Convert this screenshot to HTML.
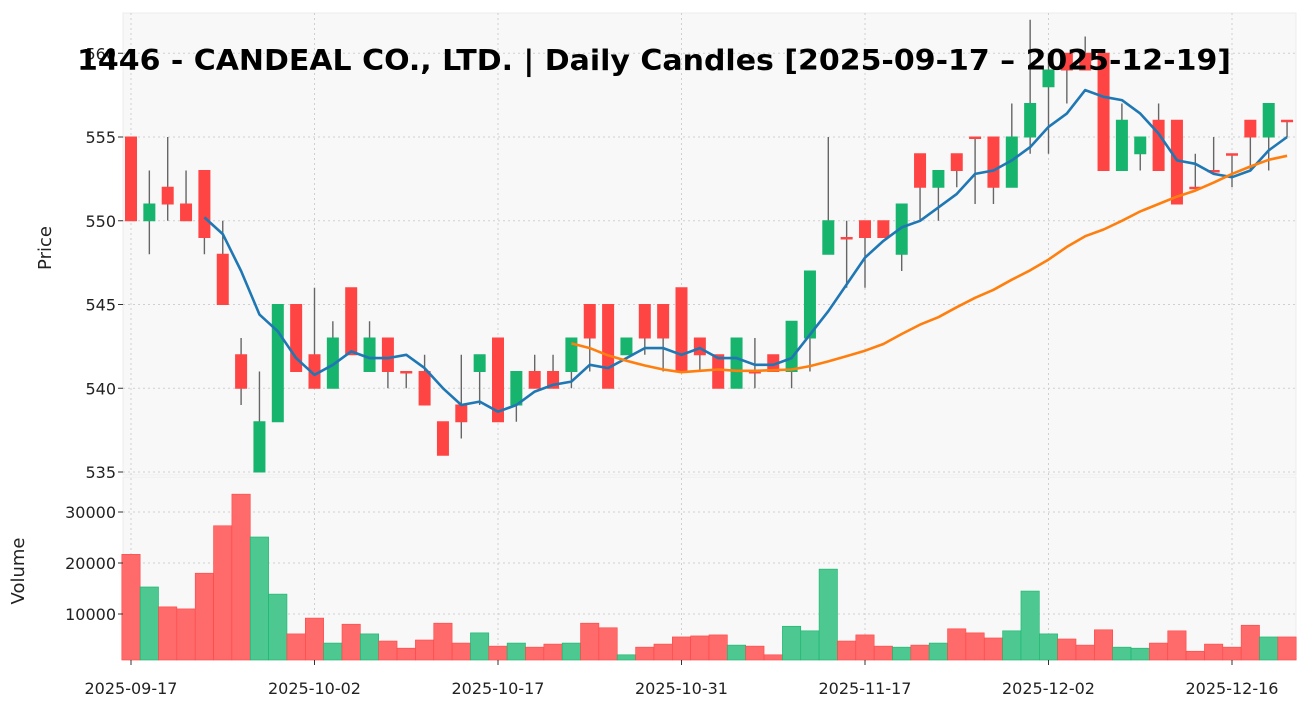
<!DOCTYPE html>
<html><head><meta charset="utf-8"><style>
body{margin:0;background:#fff;}
svg{display:block;font-family:"DejaVu Sans","Liberation Sans",sans-serif;}
</style></head><body>
<svg id="chart" width="1310" height="711" xmlns="http://www.w3.org/2000/svg">
<rect x="123" y="13" width="1173" height="462" fill="#f8f8f8" stroke="#ececec"/>
<rect x="123" y="477" width="1173" height="183" fill="#f8f8f8" stroke="#ececec"/>
<g id="grid"></g>
<g id="vol"></g>
<g id="candles"></g>
<g id="ma"></g>
<g id="axes"></g>
<text x="24" y="571" font-size="18" text-anchor="middle" transform="rotate(-90 24 571)" fill="#222">Volume</text>
<text x="51" y="248" font-size="18" text-anchor="middle" transform="rotate(-90 51 248)" fill="#222">Price</text>
<text x="77" y="70" font-size="28.5" font-weight="bold" textLength="1154" lengthAdjust="spacingAndGlyphs" fill="#000">1446 - CANDEAL CO., LTD. | Daily Candles [2025-09-17 – 2025-12-19]</text>
</svg>
<script>
const opens  = [555,550,552,551,553,548,542,535,538,545,542,540,546,541,543,541,541,538,539,541,543,539,541,541,541,545,545,542,545,545,546,543,542,540,541,542,541,543,548,549,550,550,548,554,552,554,555,555,552,555,558,560,560,560,553,554,556,556,552,553,554,556,555,556];
const closes = [550,551,551,550,549,545,540,538,545,541,540,543,542,543,541,541,539,536,538,542,538,541,540,540,543,543,540,543,543,543,541,542,540,543,541,541,544,547,550,549,549,549,551,552,553,553,555,552,555,557,559,559,559,553,556,555,553,551,552,553,554,555,557,556];
const highs  = [555,553,555,553,553,550,543,541,545,545,546,544,546,544,543,541,542,538,542,542,543,541,542,542,543,545,545,543,545,545,546,543,542,543,543,542,544,547,555,550,550,550,551,554,553,554,555,555,557,562,560,560,561,560,557,555,557,556,554,555,554,556,557,556];
const lows   = [550,548,550,550,548,545,539,535,538,541,540,540,542,541,540,540,539,536,537,539,538,538,540,540,540,541,540,542,542,541,541,541,540,540,540,541,540,541,548,546,546,549,547,550,550,552,551,551,552,554,554,557,559,553,553,553,553,551,552,553,552,553,553,555];
const volumes = [21700,15300,11400,11000,18000,27300,33500,25100,13900,6100,9200,4300,8000,6100,4700,3300,4900,8200,4300,6300,3700,4300,3500,4100,4300,8200,7300,2000,3500,4100,5500,5700,5900,3900,3700,2000,7600,6700,18800,4700,5900,3700,3500,3900,4300,7100,6300,5300,6700,14500,6100,5100,3900,6900,3500,3300,4300,6700,2700,4100,3500,7800,5500,5500];
const dateLabels = ["2025-09-17","2025-10-02","2025-10-17","2025-10-31","2025-11-17","2025-12-02","2025-12-16"];
const dateIdx = [0,10,20,30,40,50,60];
const priceTicks = [535,540,545,550,555,560];
const volTicks = [10000,20000,30000];

const NS="http://www.w3.org/2000/svg";
const X=i=>131+i*18.35;
const PY=p=>472-(p-535)*16.75;
const VY=v=>665-v*51/10000;
function mk(tag,attrs,parent){const e=document.createElementNS(NS,tag);for(const k in attrs)e.setAttribute(k,attrs[k]);parent.appendChild(e);return e;}
const grid=document.getElementById('grid'),vol=document.getElementById('vol'),cg=document.getElementById('candles'),mag=document.getElementById('ma'),ax=document.getElementById('axes');

priceTicks.forEach(t=>{
  const y=PY(t);
  const g=mk('line',{x1:123,x2:1296,y1:y,y2:y,stroke:'#cfcfcf','stroke-dasharray':'2,3'},grid);
  
  
  mk('line',{x1:118,x2:123,y1:y,y2:y,stroke:'#333'},ax);
  const tx=mk('text',{x:116,y:y+6,'font-size':16,'text-anchor':'end',fill:'#222'},ax);
  tx.textContent=t;
  
  
});
volTicks.forEach(t=>{
  const y=VY(t);
  const g=mk('line',{x1:123,x2:1296,y1:y,y2:y,stroke:'#cfcfcf','stroke-dasharray':'2,3'},grid);
  
  
  mk('line',{x1:118,x2:123,y1:y,y2:y,stroke:'#333'},ax);
  const tx=mk('text',{x:116,y:y+6,'font-size':16,'text-anchor':'end',fill:'#222'},ax);
  tx.textContent=t;
  
  
});
dateIdx.forEach((i,k)=>{
  const x=X(i);
  const g=mk('line',{x1:x,x2:x,y1:13,y2:660,stroke:'#cfcfcf','stroke-dasharray':'2,3'},grid);
  
  
  mk('line',{x1:x,x2:x,y1:660,y2:665,stroke:'#333'},ax);
  const tx=mk('text',{x:x,y:694,'font-size':16,'text-anchor':'middle',fill:'#222'},ax);
  tx.textContent=dateLabels[k];
  
  
});

closes.forEach((c,i)=>{
  const up=c>opens[i];
  const x=X(i);
  const vt=VY(volumes[i]);
  const vb=mk('rect',{x:x-9.2,y:vt,width:18.35,height:Math.max(0,660-vt),fill:up?'#4cc890':'#ff6b6b',stroke:up?'#16b46c':'#ff4444','stroke-width':0.6},vol);
  
  
  const w=mk('line',{x1:x,x2:x,y1:PY(highs[i]),y2:PY(lows[i]),stroke:'#666','stroke-width':1.4},cg);
  
  
  const top=PY(Math.max(c,opens[i])),bot=PY(Math.min(c,opens[i]));
  const col=up?'#16b46c':'#ff4444';
  const b=mk('rect',{x:x-5.5,y:top,width:11,height:Math.max(1.5,bot-top),fill:col,stroke:col,'stroke-width':1},cg);
  
  
});

function maLine(n,color,name){
  let pts=[];
  for(let i=n-1;i<closes.length;i++){
    let s=0;for(let j=i-n+1;j<=i;j++)s+=closes[j];
    pts.push(X(i).toFixed(1)+','+PY(s/n).toFixed(1));
  }
  const p=mk('polyline',{points:pts.join(' '),fill:'none',stroke:color,'stroke-width':2.6,'stroke-linejoin':'round'},mag);
  
  
}
maLine(5,'#1f77b4','ma5-line');
maLine(25,'#ff7f0e','ma25-line');
</script>
</body></html>
